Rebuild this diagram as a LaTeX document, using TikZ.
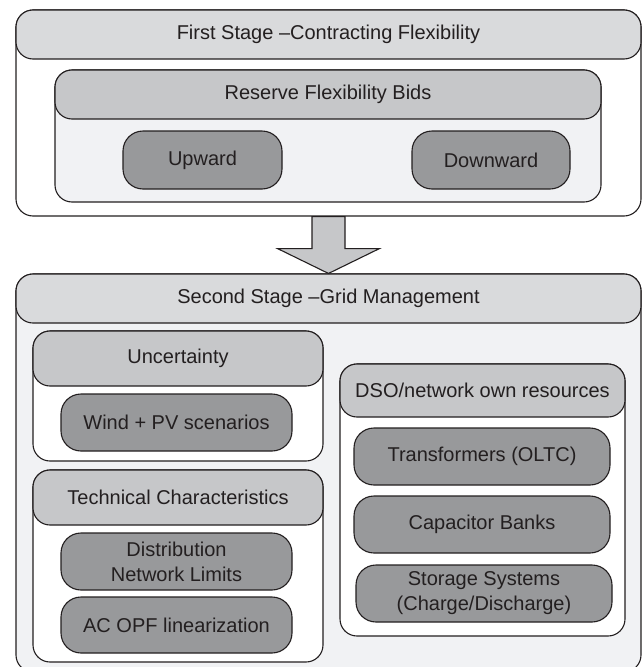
\documentclass[tikz,border=0pt]{standalone}
\usepackage{fontspec}
\setmainfont{Liberation Sans}
\usetikzlibrary{calc}
\definecolor{lineC}{HTML}{231F20}
\definecolor{hdrA}{HTML}{D9DADC}
\definecolor{hdrB}{HTML}{C6C7C9}
\definecolor{darkB}{HTML}{98999B}
\definecolor{bodyG}{HTML}{F1F2F4}
\begin{document}
\begin{tikzpicture}[x=1pt,y=-1pt,
  base/.style={draw=lineC, line width=1.1pt, inner sep=0pt, align=center,
    font=\fontsize{20}{25}\selectfont, text=lineC},
  outerbox/.style={base, rounded corners=17pt, fill=white},
  graybox/.style={base, rounded corners=17pt, fill=bodyG},
  hdrone/.style={base, rounded corners=17pt, fill=hdrA},
  hdrtwo/.style={base, rounded corners=17pt, fill=hdrB},
  darkbox/.style={base, rounded corners=20pt, fill=darkB},
  bigarrow/.style={draw=lineC, line width=1.1pt, fill=hdrB, line join=miter}
]
\useasboundingbox (0,0) rectangle (643,667);
% ---------- helper: box from corners ----------
\newcommand{\bx}[6]{%
  \node[#1, minimum width={(#4)-(#2)}, minimum height={(#5)-(#3)}] (#6)
    at ({((#2)+(#4))/2},{((#3)+(#5))/2}) {};}
\newcommand{\tbx}[7]{%
  \node[#1, minimum width={(#4)-(#2)}, minimum height={(#5)-(#3)}] (#6)
    at ({((#2)+(#4))/2},{((#3)+(#5))/2}) {#7};}

% ===== First stage =====
\bx{outerbox}{16}{10}{641}{216}{stageone}
\tbx{hdrone}{16}{10}{641}{59}{hdrfirst}{First Stage –Contracting Flexibility}
\bx{graybox}{55}{70}{601}{202}{reserve}
\tbx{hdrtwo}{55}{70}{601}{119}{hdrreserve}{Reserve Flexibility Bids}
\tbx{darkbox}{123}{131}{282}{189}{upward}{Upward}
\tbx{darkbox}{412}{131}{570}{189}{downward}{Downward}

% ===== Second stage =====
\bx{graybox}{16}{274}{641}{672}{stagetwo}
\tbx{hdrone}{16}{274}{641}{323}{hdrsecond}{Second Stage –Grid Management}

% big arrow between stages
\coordinate (atop) at (stageone.south);
\coordinate (atip) at (stagetwo.north);
\draw[bigarrow] ($(atop)+(-16.5,0)$) -- ($(atop)+(16.5,0)$) -- ($(atop)+(16.5,32)$)
  -- ($(atop)+(51,32)$) -- (atip) -- ($(atop)+(-51,32)$) -- ($(atop)+(-16.5,32)$) -- cycle;

% Uncertainty
\bx{outerbox}{33}{331}{323}{461}{uncert}
\tbx{hdrtwo}{33}{331}{323}{386}{hdrunc}{Uncertainty}
\tbx{darkbox}{61}{394}{292}{451}{wind}{Wind + PV scenarios}

% Technical characteristics
\bx{outerbox}{33}{470}{323}{662}{techbox}
\tbx{hdrtwo}{33}{470}{323}{525}{hdrtech}{Technical Characteristics}
\tbx{darkbox}{61}{533}{292}{590}{distlim}{Distribution\\Network Limits}
\tbx{darkbox}{61}{597}{292}{653}{acopf}{AC OPF linearization}

% DSO resources
\bx{outerbox}{340}{364}{625}{636}{dsobox}
\tbx{hdrtwo}{340}{364}{625}{417}{hdrdso}{DSO/network own resources}
\tbx{darkbox}{354}{428}{610}{485}{oltc}{Transformers (OLTC)}
\tbx{darkbox}{354}{496}{610}{553}{capbank}{Capacitor Banks}
\tbx{darkbox}{356}{565}{612}{622}{storage}{Storage Systems\\(Charge/Discharge)}
\end{tikzpicture}
\end{document}
